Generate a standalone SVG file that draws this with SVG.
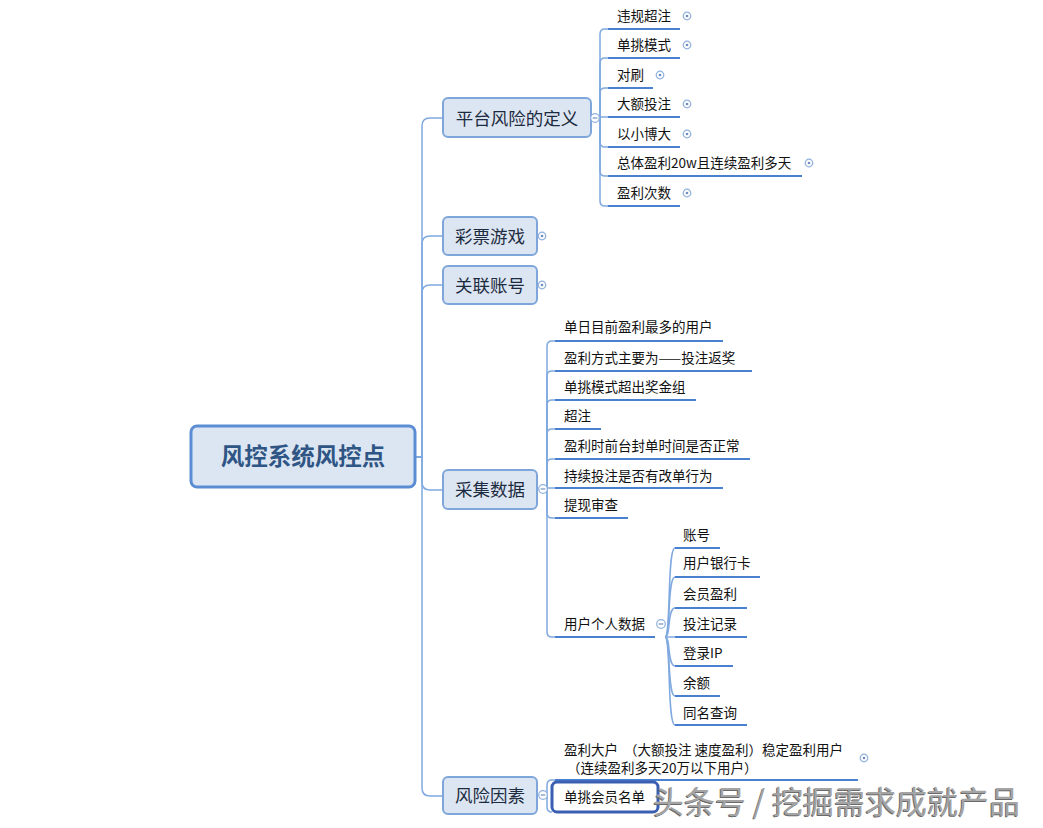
<svg xmlns="http://www.w3.org/2000/svg" width="1043" height="828" viewBox="0 0 1043 828">
<style>
text{font-family:"Noto Sans CJK SC","Noto Sans",sans-serif;}
.root{font-size:23.5px;font-weight:bold;fill:#2f5585;}
.l1{font-size:17.5px;fill:#1c2b40;}
.t{font-size:13.5px;fill:#111;}
.l1box{fill:#dce6f2;stroke:#7ea6db;stroke-width:2;}
.ul{stroke:#4a80d0;stroke-width:2.2;fill:none;}
.con{stroke:#80a9e0;stroke-width:1.5;fill:none;}
.ic{fill:#fff;stroke:#8fb0dd;stroke-width:1.2;}
.icl{stroke:#6d8fbf;stroke-width:1.2;}
.wm{font-size:31px;fill:#a4a4a4;}
.wms{font-size:31px;fill:#6a6a6a;}
</style>
<defs>
<g id="plus"><circle r="3.8" class="ic"/><circle r="1.3" fill="#6d8fbf"/></g>
<g id="minus"><circle r="4.3" class="ic"/><line x1="-2.3" y1="0" x2="2.3" y2="0" class="icl"/></g>
</defs>

<g id="connectors">
  <path class="con" d="M416,457 H422 V126 Q422,118 430,118 H443"/>
  <path class="con" d="M416,457 H422 V244 Q422,236 430,236 H443"/>
  <path class="con" d="M416,457 H422 V293 Q422,285 430,285 H443"/>
  <path class="con" d="M416,457 H422 V482 Q422,490 430,490 H443"/>
  <path class="con" d="M416,457 H422 V788 Q422,796 430,796 H443"/>
  <path class="con" d="M599,118 H600 V34 Q600,29 605,29 H608"/>
  <path class="con" d="M599,118 H600 V63 Q600,58 605,58 H608"/>
  <path class="con" d="M599,118 H600 V93 Q600,88 605,88 H608"/>
  <path class="con" d="M599,118 H600 V117 H608"/>
  <path class="con" d="M599,118 H600 V142 Q600,147 605,147 H608"/>
  <path class="con" d="M599,118 H600 V171 Q600,176 605,176 H608"/>
  <path class="con" d="M599,118 H600 V201 Q600,206 605,206 H608"/>
  <path class="con" d="M547,489 V346 Q547,341 552,341 H555"/>
  <path class="con" d="M547,489 V376 Q547,371 552,371 H555"/>
  <path class="con" d="M547,489 V405 Q547,400 552,400 H555"/>
  <path class="con" d="M547,489 V434 Q547,429 552,429 H555"/>
  <path class="con" d="M547,489 V464 Q547,459 552,459 H555"/>
  <path class="con" d="M547,489 V488 H555"/>
  <path class="con" d="M547,489 V513 Q547,518 552,518 H555"/>
  <path class="con" d="M547,489 V632 Q547,637 552,637 H555"/>
  <path class="con" d="M665,637 C671,637 667,548 675,548"/>
  <path class="con" d="M665,637 C671,637 667,577 675,577"/>
  <path class="con" d="M665,637 C671,637 667,608 675,608"/>
  <path class="con" d="M665,637 H675"/>
  <path class="con" d="M665,637 C671,637 667,666 675,666"/>
  <path class="con" d="M665,637 C671,637 667,696 675,696"/>
  <path class="con" d="M665,637 C671,637 667,725 675,725"/>
  <path class="con" d="M547,795 V785 Q547,780 552,780 H555"/>
  <path class="con" d="M547,795 V807 Q547,812 552,812"/>
</g>

<g id="root">
  <rect x="191" y="426" width="224" height="61" rx="6" fill="#dce6f2" stroke="#5a8dd3" stroke-width="3"/>
  <text class="root" x="303" y="465" text-anchor="middle">风控系统风控点</text>
</g>

<g id="n-pingtai">
  <rect class="l1box" x="443" y="98" width="148" height="39" rx="5"/>
  <text class="l1" x="517" y="124.5" text-anchor="middle">平台风险的定义</text>
  <use href="#minus" x="595" y="118"/>
</g>
<g id="n-caipiao">
  <rect class="l1box" x="443" y="217" width="94" height="38" rx="5"/>
  <text class="l1" x="490" y="242.5" text-anchor="middle">彩票游戏</text>
  <use href="#plus" x="542" y="236"/>
</g>
<g id="n-guanlian">
  <rect class="l1box" x="443" y="266" width="94" height="38" rx="5"/>
  <text class="l1" x="490" y="291.5" text-anchor="middle">关联账号</text>
  <use href="#plus" x="542" y="285"/>
</g>
<g id="n-caiji">
  <rect class="l1box" x="443" y="470" width="94" height="39" rx="5"/>
  <text class="l1" x="490" y="496" text-anchor="middle">采集数据</text>
  <use href="#minus" x="543" y="489"/>
</g>
<g id="n-fengxian">
  <rect class="l1box" x="443" y="777" width="94" height="37" rx="5"/>
  <text class="l1" x="490" y="802" text-anchor="middle">风险因素</text>
  <use href="#minus" x="543" y="795"/>
</g>

<g id="p1"><text class="t" x="617" y="21">违规超注</text><line class="ul" x1="608" y1="29" x2="680" y2="29"/><use href="#plus" x="687" y="16"/></g>
<g id="p2"><text class="t" x="617" y="50">单挑模式</text><line class="ul" x1="608" y1="58" x2="680" y2="58"/><use href="#plus" x="687" y="45"/></g>
<g id="p3"><text class="t" x="617" y="80">对刷</text><line class="ul" x1="608" y1="88" x2="653" y2="88"/><use href="#plus" x="660" y="75"/></g>
<g id="p4"><text class="t" x="617" y="109">大额投注</text><line class="ul" x1="608" y1="117" x2="680" y2="117"/><use href="#plus" x="687" y="104"/></g>
<g id="p5"><text class="t" x="617" y="139">以小博大</text><line class="ul" x1="608" y1="147" x2="680" y2="147"/><use href="#plus" x="687" y="134"/></g>
<g id="p6"><text class="t" x="617" y="168">总体盈利20w且连续盈利多天</text><line class="ul" x1="608" y1="176" x2="802" y2="176"/><use href="#plus" x="809" y="163"/></g>
<g id="p7"><text class="t" x="617" y="198">盈利次数</text><line class="ul" x1="608" y1="206" x2="680" y2="206"/><use href="#plus" x="687" y="193"/></g>

<g id="c1"><text class="t" x="564" y="332">单日目前盈利最多的用户</text><line class="ul" x1="555" y1="341" x2="723" y2="341"/></g>
<g id="c2"><text class="t" x="564" y="363">盈利方式主要为——投注返奖</text><line class="ul" x1="555" y1="371" x2="752" y2="371"/></g>
<g id="c3"><text class="t" x="564" y="392">单挑模式超出奖金组</text><line class="ul" x1="555" y1="400" x2="696" y2="400"/></g>
<g id="c4"><text class="t" x="564" y="421">超注</text><line class="ul" x1="555" y1="429" x2="601" y2="429"/></g>
<g id="c5"><text class="t" x="564" y="451">盈利时前台封单时间是否正常</text><line class="ul" x1="555" y1="459" x2="750" y2="459"/></g>
<g id="c6"><text class="t" x="564" y="481">持续投注是否有改单行为</text><line class="ul" x1="555" y1="488" x2="723" y2="488"/></g>
<g id="c7"><text class="t" x="564" y="510">提现审查</text><line class="ul" x1="555" y1="518" x2="628" y2="518"/></g>
<g id="c8"><text class="t" x="564" y="629">用户个人数据</text><line class="ul" x1="555" y1="637" x2="655" y2="637"/><use href="#minus" x="661" y="624"/></g>

<g id="u1"><text class="t" x="683" y="540">账号</text><line class="ul" x1="675" y1="548" x2="720" y2="548"/></g>
<g id="u2"><text class="t" x="683" y="568">用户银行卡</text><line class="ul" x1="675" y1="577" x2="760" y2="577"/></g>
<g id="u3"><text class="t" x="683" y="599">会员盈利</text><line class="ul" x1="675" y1="608" x2="747" y2="608"/></g>
<g id="u4"><text class="t" x="683" y="629">投注记录</text><line class="ul" x1="675" y1="637" x2="747" y2="637"/></g>
<g id="u5"><text class="t" x="683" y="658">登录IP</text><line class="ul" x1="675" y1="666" x2="733" y2="666"/></g>
<g id="u6"><text class="t" x="683" y="688">余额</text><line class="ul" x1="675" y1="696" x2="720" y2="696"/></g>
<g id="u7"><text class="t" x="683" y="718">同名查询</text><line class="ul" x1="675" y1="725" x2="747" y2="725"/></g>

<g id="f1">
  <text class="t" x="564" y="755" xml:space="preserve">盈利大户  （大额投注 速度盈利）稳定盈利用户</text>
  <text class="t" x="564" y="773" xml:space="preserve"> （连续盈利多天20万以下用户）</text>
  <line class="ul" x1="555" y1="780" x2="858" y2="780"/>
  <use href="#plus" x="864" y="758"/>
</g>
<g id="f2">
  <rect x="552" y="782" width="106" height="30" rx="5" fill="#fff" stroke="#3a5eb2" stroke-width="3"/>
  <text class="t" x="564" y="802">单挑会员名单</text>
</g>

<g id="watermark">
  <text class="wms" x="652" y="814" xml:space="preserve">头条号 / 挖掘需求成就产品</text>
  <text class="wm" x="653" y="813" xml:space="preserve">头条号 / 挖掘需求成就产品</text>
</g>
</svg>
